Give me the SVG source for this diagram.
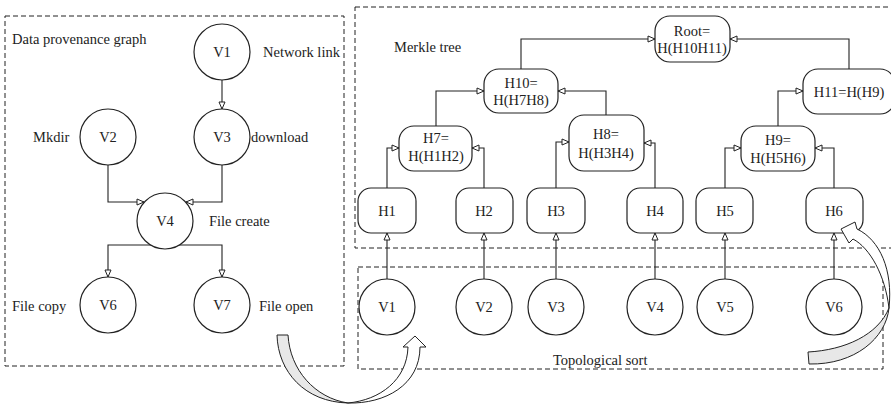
<svg xmlns="http://www.w3.org/2000/svg" width="891" height="405" viewBox="0 0 891 405">
<style>
text{font-family:"Liberation Serif","Times New Roman",serif;font-size:14.5px;fill:#222}
.c{text-anchor:middle}
.n{fill:#fff;stroke:#222;stroke-width:1.2}
.box{fill:none;stroke:#222;stroke-width:1;stroke-dasharray:5,3}
.e{fill:none;stroke:#222;stroke-width:1.1;marker-end:url(#ah)}
.ca{stroke:#222;stroke-width:1;stroke-linejoin:round}
</style>
<defs>
<marker id="ah" markerWidth="9" markerHeight="8" refX="8" refY="4" orient="auto" markerUnits="userSpaceOnUse">
<path d="M1,1 L8,4 L1,7 Z" fill="#fff" stroke="#222" stroke-width="1"/>
</marker>
</defs>
<rect class="box" x="5" y="16" width="339" height="350"/>
<rect class="box" x="355" y="7" width="545" height="241"/>
<rect class="box" x="358" y="267" width="525" height="102"/>
<text x="12" y="44">Data provenance graph</text>
<text x="394" y="52">Merkle tree</text>
<text x="553" y="365">Topological sort</text>
<text x="263" y="57">Network link</text>
<text x="33" y="142">Mkdir</text>
<text x="251" y="142">download</text>
<text x="209" y="226">File create</text>
<text x="12" y="311">File copy</text>
<text x="259" y="311">File open</text>
<g id="connectors">
<path class="e" d="M222,80 L222,109"/>
<path class="e" d="M108,165 L108,202 L144,202"/>
<path class="e" d="M222,165 L222,202 L186,202"/>
<path class="e" d="M151,245 L108,245 L108,277"/>
<path class="e" d="M179,245 L222,245 L222,277"/>
<path class="e" d="M521,69 L521,39 L655,39"/>
<path class="e" d="M849,69 L849,39 L730,39"/>
<path class="e" d="M436,126 L436,91 L484,91"/>
<path class="e" d="M606,115 L606,91 L558,91"/>
<path class="e" d="M387,188 L387,148 L399,148"/>
<path class="e" d="M484,188 L484,148 L472,148"/>
<path class="e" d="M556,188 L556,142 L569,142"/>
<path class="e" d="M655,188 L655,143 L644,143"/>
<path class="e" d="M725,188 L725,148 L741,148"/>
<path class="e" d="M834,188 L834,148 L815,148"/>
<path class="e" d="M778,126 L778,91 L803,91"/>
<path class="e" d="M387,279 L387,233"/>
<path class="e" d="M484,279 L484,233"/>
<path class="e" d="M556,279 L556,233"/>
<path class="e" d="M655,279 L655,233"/>
<path class="e" d="M725,279 L725,233"/>
<path class="e" d="M834,279 L834,233"/>
</g>
<g id="pV1"><circle class="n" cx="222" cy="52" r="28"/><text class="c" x="222" y="57">V1</text></g>
<g id="pV2"><circle class="n" cx="108" cy="137" r="28"/><text class="c" x="108" y="142">V2</text></g>
<g id="pV3"><circle class="n" cx="222" cy="137" r="28"/><text class="c" x="222" y="142">V3</text></g>
<g id="pV4"><circle class="n" cx="165" cy="221" r="28"/><text class="c" x="165" y="226">V4</text></g>
<g id="pV6"><circle class="n" cx="108" cy="305" r="28"/><text class="c" x="108" y="310">V6</text></g>
<g id="pV7"><circle class="n" cx="222" cy="305" r="28"/><text class="c" x="222" y="310">V7</text></g>
<g id="Root"><rect class="n" x="655" y="16" width="75" height="46" rx="15"/><text class="c" x="692" y="36">Root=</text><text class="c" x="692" y="53">H(H10H11)</text></g>
<g id="H10"><rect class="n" x="484" y="69" width="74" height="44" rx="15"/><text class="c" x="521" y="88">H10=</text><text class="c" x="521" y="105">H(H7H8)</text></g>
<g id="H11"><rect class="n" x="803" y="69" width="92" height="45" rx="15"/><text class="c" x="849" y="97">H11=H(H9)</text></g>
<g id="H7"><rect class="n" x="399" y="126" width="73" height="45" rx="15"/><text class="c" x="436" y="143">H7=</text><text class="c" x="436" y="161">H(H1H2)</text></g>
<g id="H8"><rect class="n" x="569" y="115" width="75" height="56" rx="15"/><text class="c" x="606" y="139">H8=</text><text class="c" x="606" y="158">H(H3H4)</text></g>
<g id="H9"><rect class="n" x="741" y="126" width="74" height="45" rx="15"/><text class="c" x="778" y="145">H9=</text><text class="c" x="778" y="163">H(H5H6)</text></g>
<g id="H1"><rect class="n" x="358" y="188" width="58" height="45" rx="13"/><text class="c" x="387" y="216">H1</text></g>
<g id="H2"><rect class="n" x="456" y="188" width="57" height="45" rx="13"/><text class="c" x="484" y="216">H2</text></g>
<g id="H3"><rect class="n" x="527" y="188" width="58" height="45" rx="13"/><text class="c" x="556" y="216">H3</text></g>
<g id="H4"><rect class="n" x="627" y="188" width="56" height="45" rx="13"/><text class="c" x="655" y="216">H4</text></g>
<g id="H5"><rect class="n" x="696" y="188" width="57" height="45" rx="13"/><text class="c" x="725" y="216">H5</text></g>
<g id="H6"><rect class="n" x="806" y="188" width="57" height="45" rx="13"/><text class="c" x="834" y="216">H6</text></g>
<g id="sV1"><circle class="n" cx="387" cy="307" r="28"/><text class="c" x="387" y="312">V1</text></g>
<g id="sV2"><circle class="n" cx="484" cy="307" r="28"/><text class="c" x="484" y="312">V2</text></g>
<g id="sV3"><circle class="n" cx="556" cy="307" r="28"/><text class="c" x="556" y="312">V3</text></g>
<g id="sV4"><circle class="n" cx="655" cy="307" r="28"/><text class="c" x="655" y="312">V4</text></g>
<g id="sV5"><circle class="n" cx="725" cy="307" r="28"/><text class="c" x="725" y="312">V5</text></g>
<g id="sV6"><circle class="n" cx="834" cy="307" r="28"/><text class="c" x="834" y="312">V6</text></g>
<g id="curve-arrows">
<path class="ca" fill="#e8e8e8" d="M277,335 L288,335 C290,370 315,398 348,403 C305,402 278,372 277,335 Z"/>
<path class="ca" fill="#fff" d="M348,403 C385,404 420,385 420,347 L426,347 L415,336 L403,347 L408,347 C407,380 380,400 348,403 Z"/>
<path class="ca" fill="#e8e8e8" d="M808,352 C845,350 878,335 889,308 C886,338 855,365 809,364 Z"/>
<path class="ca" fill="#fff" d="M889,308 C893,270 880,240 857,229 L855,222 L841,229 L849,243 L853,239 C870,248 885,275 889,308 Z"/>
</g>
</svg>
